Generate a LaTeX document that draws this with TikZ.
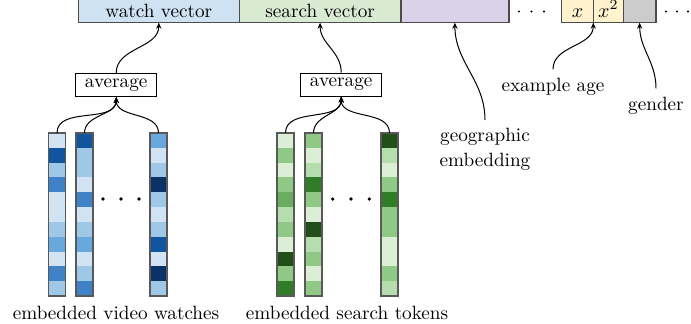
\documentclass[tikz,border=0pt]{standalone}
\usetikzlibrary{positioning,arrows.meta}

\definecolor{bA}{HTML}{D2E3F3}
\definecolor{bB}{HTML}{9FC8E6}
\definecolor{bC}{HTML}{68A8DC}
\definecolor{bD}{HTML}{4082C8}
\definecolor{bE}{HTML}{10559E}
\definecolor{bF}{HTML}{0A3266}
\definecolor{gA}{HTML}{DCEFD6}
\definecolor{gB}{HTML}{B6DDAE}
\definecolor{gC}{HTML}{8FC985}
\definecolor{gD}{HTML}{68AE5E}
\definecolor{gE}{HTML}{307D28}
\definecolor{gF}{HTML}{224F19}
\definecolor{watchfill}{HTML}{CFE2F3}
\definecolor{searchfill}{HTML}{D9EAD3}
\definecolor{geofill}{HTML}{D9D2E9}
\definecolor{agefill}{HTML}{FFF2CC}
\definecolor{genderfill}{HTML}{CCCCCC}

% one embedding column: name, x centre, cell colours (top to bottom)
\newcommand{\embcol}[3]{%
  \foreach \c [count=\i] in {#3}
    \fill[\c] ({#2-8.5},{190-(\i-1)*163/11}) rectangle ({#2+8.5},{190-\i*163/11});
  \node[column] (#1) at (#2,108.5) {};
}

\begin{document}
\begin{tikzpicture}[x=0.5pt,y=0.5pt,
    every node/.style={font=\fontsize{9.6}{12.35}\selectfont},
    column/.style={draw=black!65, line width=0.6pt, minimum width=8.5pt,
      minimum height=81.5pt, inner sep=0pt, outer sep=0pt},
    barcell/.style={draw=black!70, line width=0.6pt, minimum height=14pt,
      inner sep=0pt, outer sep=0pt, text height=8.4pt, text depth=0pt},
    avgbox/.style={draw, line width=0.5pt, minimum width=40.5pt,
      minimum height=11.5pt, inner sep=0pt},
    lbl/.style={inner sep=4pt},
    link/.style={-{Stealth[length=3pt,width=2.6pt]}, line width=0.5pt}]
  \useasboundingbox (0,0) rectangle (691,323);
  \clip (0,0) rectangle (691,323);

  % input vector
  \node[barcell, fill=watchfill, minimum width=80.5pt, anchor=south west]
    (watch) at (78.3,300.3) {watch vector};
  \node[barcell, fill=searchfill, minimum width=80.8pt, right=0pt of watch]
    (search) {search vector};
  \node[barcell, fill=geofill, minimum width=54pt, right=0pt of search] (geo) {};
  \node[barcell, fill=agefill, minimum width=15.8pt, anchor=south west]
    (agex) at (561.7,300.3) {$x$};
  \node[barcell, fill=agefill, minimum width=15pt, right=0pt of agex] (agexx) {$x^2$};
  \node[barcell, fill=genderfill, minimum width=16.35pt, right=0pt of agexx] (gender) {};
  \foreach \x in {519,531.5,544,666,677,688}
    \fill (\x,311.5) circle (0.6pt);

  % embedded watches
  \embcol{w1}{57}{bA,bE,bB,bD,bA,bA,bB,bC,bA,bD,bB}
  \embcol{w2}{84.5}{bE,bB,bB,bA,bD,bA,bB,bC,bA,bB,bD}
  \embcol{w3}{158.5}{bC,bA,bB,bF,bB,bA,bB,bE,bA,bF,bB}
  % embedded search tokens
  \embcol{s1}{285.5}{gA,gC,gA,gC,gD,gB,gC,gA,gF,gC,gE}
  \embcol{s2}{313.5}{gC,gA,gB,gE,gC,gA,gF,gB,gC,gA,gC}
  \embcol{s3}{389.5}{gF,gB,gA,gC,gE,gC,gC,gA,gA,gC,gB}
  \foreach \x in {103,121,139,332.7,351,369.3}
    \fill (\x,124) circle (0.9pt);

  \node[avgbox] (avgw) at (116.2,238) {average};
  \node[avgbox] (avgs) at (341.2,238.5) {average};

  \node[anchor=base] (watchlbl) at (116,3.7) {embedded video watches};
  \node[anchor=base] (searchlbl) at (347,3.7) {embedded search tokens};
  \node[lbl, align=center, anchor=north] (geolbl) at (485,203) {geographic\\embedding};
  \node[lbl, anchor=base] (agelbl) at (553,232) {example age};
  \node[lbl, anchor=base] (genderlbl) at (656,213) {gender};

  \begin{scope}[link]
    \draw (w1.north) to[out=90,in=-90] (avgw.south);
    \draw (w2.north) to[out=90,in=-90] (avgw.south);
    \draw (w3.north) to[out=90,in=-90] (avgw.south);
    \draw (s1.north) to[out=90,in=-90] (avgs.south);
    \draw (s2.north) to[out=90,in=-90] (avgs.south);
    \draw (s3.north) to[out=90,in=-90] (avgs.south);
    \draw (avgw.north) to[out=90,in=-90] (watch.south);
    \draw (avgs.north) to[out=90,in=-90] (search.south);
    \draw (geolbl.north) to[out=90,in=-90] (geo.south);
    \draw (agelbl.north) to[out=90,in=-90] (agex.south east);
    \draw (genderlbl.north) to[out=90,in=-90] (gender.south);
  \end{scope}
\end{tikzpicture}
\end{document}
